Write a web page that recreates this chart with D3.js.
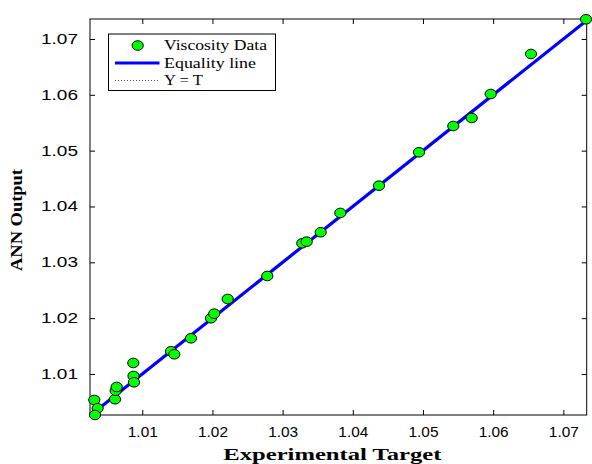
<!DOCTYPE html>
<html>
<head>
<meta charset="utf-8">
<script src="https://cdn.jsdelivr.net/npm/d3@7"></script>
<style>
  html, body { margin: 0; padding: 0; background: #fff; }
  svg { display: block; }
</style>
</head>
<body>
<svg id="chart" width="592" height="464"></svg>
<script>
// ---- Data ----
const targets = [1.00316, 1.00364, 1.00326, 1.00611, 1.00621, 1.00635, 1.00872, 1.00875, 1.00882,
  1.01409, 1.01456, 1.01694, 1.01979, 1.02025, 1.02217, 1.02781, 1.03280, 1.03343, 1.03542,
  1.03822, 1.04373, 1.04943, 1.05432, 1.05694, 1.05965, 1.06539, 1.07323];
const outputs = [1.00534, 1.00386, 1.00266, 1.00547, 1.00701, 1.00767, 1.01197, 1.00964, 1.00851,
  1.01407, 1.01353, 1.01639, 1.01998, 1.02080, 1.02343, 1.02755, 1.03341, 1.03370, 1.03538,
  1.03884, 1.04373, 1.04971, 1.05442, 1.05585, 1.06015, 1.06732, 1.07353];
const xDomain = [1.00255, 1.07333];
const yDomain = [1.00265, 1.07358];
const tickValues = [1.01, 1.02, 1.03, 1.04, 1.05, 1.06, 1.07];
const legendLabels = ["Viscosity Data", "Equality line", "Y = T"];
const xTitle = "Experimental Target";
const yTitle = "ANN Output";

// ---- Layout ----
const L = 90, R = 586.7, T = 19, B = 415;
const svg = d3.select("#chart");
const x = d3.scaleLinear().domain(xDomain).range([L, R]);
const y = d3.scaleLinear().domain(yDomain).range([B, T]);

svg.append("defs").append("clipPath").attr("id", "clip")
  .append("rect").attr("x", L).attr("y", T).attr("width", R - L).attr("height", B - T);

// Axes with inward ticks
const fmt = d3.format(".2f");
const tickLen = 5;
const gx = svg.append("g").attr("transform", `translate(0,${B})`)
  .call(d3.axisBottom(x).tickValues(tickValues).tickFormat(fmt).tickSizeInner(-tickLen).tickSizeOuter(0).tickPadding(12));
const gxTop = svg.append("g").attr("transform", `translate(0,${T})`)
  .call(d3.axisTop(x).tickValues(tickValues).tickFormat("").tickSizeInner(-tickLen).tickSizeOuter(0));
const gy = svg.append("g").attr("transform", `translate(${L},0)`)
  .call(d3.axisLeft(y).tickValues(tickValues).tickFormat(fmt).tickSizeInner(-tickLen).tickSizeOuter(0).tickPadding(12));
const gyR = svg.append("g").attr("transform", `translate(${R},0)`)
  .call(d3.axisRight(y).tickValues(tickValues).tickFormat("").tickSizeInner(-tickLen).tickSizeOuter(0));

[gx, gxTop, gy, gyR].forEach(g => {
  g.select(".domain").remove();
  g.selectAll(".tick line").attr("stroke", "#000").attr("stroke-width", 1);
});
gx.selectAll(".tick text")
  .attr("font-family", "'Liberation Sans', Arial, sans-serif").attr("font-size", 14).attr("fill", "#000")
  .attr("textLength", 30).attr("lengthAdjust", "spacingAndGlyphs");
gy.selectAll(".tick text")
  .attr("font-family", "'Liberation Sans', Arial, sans-serif").attr("font-size", 14).attr("fill", "#000")
  .attr("textLength", 37).attr("lengthAdjust", "spacingAndGlyphs");

// Frame
svg.append("rect").attr("x", L).attr("y", T).attr("width", R - L).attr("height", B - T)
  .attr("fill", "none").attr("stroke", "#000").attr("stroke-width", 1);

// Lines (Y = T dotted under equality line)
const lineGen = d3.line().x(d => x(d)).y(d => y(d));
const plot = svg.append("g").attr("clip-path", "url(#clip)");
plot.append("path").datum(xDomain).attr("d", lineGen)
  .attr("fill", "none").attr("stroke", "#555").attr("stroke-width", 1).attr("stroke-dasharray", "1,2");
plot.append("path").datum(xDomain).attr("d", lineGen)
  .attr("fill", "none").attr("stroke", "#0000ff").attr("stroke-width", 3.2);

// Points
svg.append("g").selectAll("ellipse").data(targets.map((t, i) => [t, outputs[i]]))
  .join("ellipse")
  .attr("cx", d => x(d[0])).attr("cy", d => y(d[1]))
  .attr("rx", 5.6).attr("ry", 4.8)
  .attr("fill", "#00ff00").attr("stroke", "#000").attr("stroke-width", 1);

// Legend
const lg = svg.append("g");
lg.append("rect").attr("x", 108.5).attr("y", 34).attr("width", 167).attr("height", 56.5)
  .attr("fill", "#fff").attr("stroke", "#000").attr("stroke-width", 1);
const rows = [45.5, 63, 80.5];
const legendWidths = [103, 92, 39];
lg.append("ellipse").attr("cx", 137.7).attr("cy", rows[0]).attr("rx", 5.6).attr("ry", 4.8)
  .attr("fill", "#00ff00").attr("stroke", "#000");
lg.append("line").attr("x1", 115).attr("x2", 159.5).attr("y1", rows[1]).attr("y2", rows[1])
  .attr("stroke", "#0000ff").attr("stroke-width", 3.2);
lg.append("line").attr("x1", 115).attr("x2", 159.5).attr("y1", rows[2]).attr("y2", rows[2])
  .attr("stroke", "#555").attr("stroke-width", 1).attr("stroke-dasharray", "1,2");
lg.selectAll("text.lab").data(legendLabels).join("text").attr("class", "lab")
  .attr("x", 164).attr("y", (d, i) => rows[i] + 4.5)
  .attr("font-family", "'Liberation Serif', 'Times New Roman', serif").attr("font-size", 14)
  .attr("textLength", (d, i) => legendWidths[i]).attr("lengthAdjust", "spacingAndGlyphs")
  .attr("fill", "#000").text(d => d);

// Axis titles
svg.append("text").attr("x", (L + R) / 2 - 6).attr("y", 460)
  .attr("text-anchor", "middle")
  .attr("font-family", "'Liberation Serif', 'Times New Roman', serif").attr("font-size", 16).attr("font-weight", "bold")
  .attr("textLength", 218).attr("lengthAdjust", "spacingAndGlyphs")
  .text(xTitle);
svg.append("text").attr("transform", `translate(22,${(T + B) / 2 + 3}) rotate(-90)`)
  .attr("text-anchor", "middle")
  .attr("font-family", "'Liberation Serif', 'Times New Roman', serif").attr("font-size", 17).attr("font-weight", "bold")
  .attr("textLength", 102).attr("lengthAdjust", "spacingAndGlyphs")
  .text(yTitle);
</script>
</body>
</html>
